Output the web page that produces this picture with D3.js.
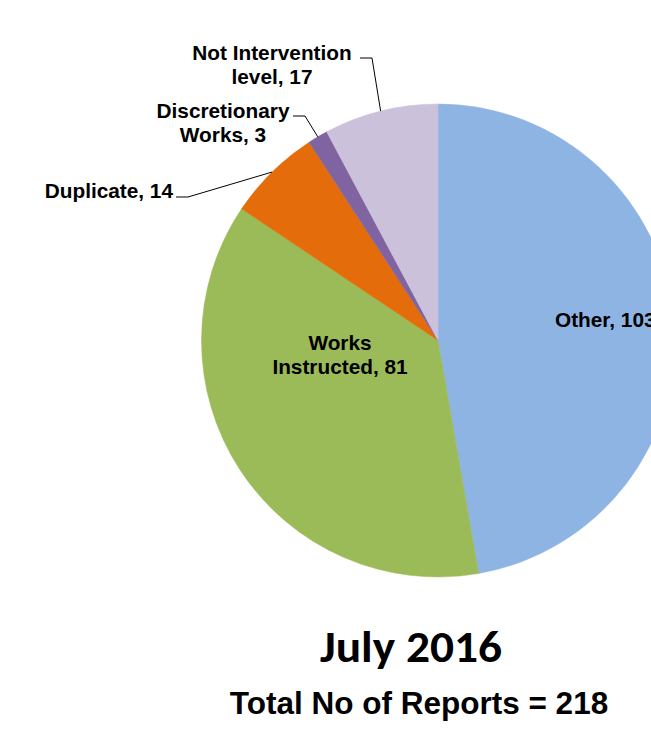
<!DOCTYPE html>
<html>
<head>
<meta charset="utf-8">
<script src="https://cdn.jsdelivr.net/npm/d3@7"></script>
<style>
  html, body { margin: 0; padding: 0; background: #fff; }
  svg { display: block; }
  .lbl { font-family: "Liberation Sans", Arial, sans-serif; font-weight: bold; fill: #000; }
</style>
</head>
<body>
<div id="chart"></div>
<script>
const categories = ["Other", "Works Instructed", "Duplicate", "Discretionary Works", "Not Intervention level"];
const values = [103, 81, 14, 3, 17];
const colors = ["#8EB4E3", "#9BBB59", "#E46C0A", "#8064A2", "#CCC1DA"];
const labelLines = [["Other, 103"], ["Works", "Instructed, 81"], ["Duplicate, 14"], ["Discretionary", "Works, 3"], ["Not Intervention", "level, 17"]];
const titleText = "July 2016";
const subtitleText = "Total No of Reports = 218";

const W = 651, H = 729;
const cx = 438, cy = 340.5, R = 236.5;

const svg = d3.select("#chart").append("svg").attr("width", W).attr("height", H);

const pie = d3.pie().sort(null).value(d => d)(values);
const arc = d3.arc().innerRadius(0).outerRadius(R);

const g = svg.append("g").attr("transform", `translate(${cx},${cy})`);
g.selectAll("path").data(pie).join("path")
  .attr("d", arc)
  .attr("fill", (d, i) => colors[i])
  .attr("stroke", (d, i) => colors[i])
  .attr("stroke-width", 0.5);

const fs = 20.8;
const lh = 23.5;
const inside = [
  { i: 0, x: 555, y: 327, anchor: "start" },
  { i: 1, x: 340, y: 350, anchor: "middle" }
];
const outside = [
  { i: 2, x: 173, y: 198, anchor: "end", elbow: [[176, 197], [188, 197]] },
  { i: 3, x: 223, y: 118, anchor: "middle", elbow: [[293, 116], [305, 116]] },
  { i: 4, x: 272, y: 60, anchor: "middle", elbow: [[360, 58], [372, 58]] }
];

function drawText(o) {
  const t = svg.append("text").attr("class", "lbl")
    .attr("font-size", fs).attr("text-anchor", o.anchor)
    .attr("x", o.x).attr("y", o.y);
  labelLines[o.i].forEach((ln, k) => {
    t.append("tspan").attr("x", o.x).attr("y", o.y + k * lh).text(ln);
  });
}
inside.forEach(drawText);
outside.forEach(o => {
  drawText(o);
  const d = pie[o.i];
  const mid = (d.startAngle + d.endAngle) / 2;
  const ex = cx + R * Math.sin(mid), ey = cy - R * Math.cos(mid);
  const pts = o.elbow.concat([[ex, ey]]);
  svg.append("path")
    .attr("d", d3.line()(pts))
    .attr("fill", "none").attr("stroke", "#000").attr("stroke-width", 1);
});

svg.append("text")
  .attr("x", 320).attr("y", 662)
  .attr("font-family", "Carlito, Calibri, Lato, sans-serif")
  .attr("font-weight", "bold")
  .attr("font-size", 44)
  .attr("textLength", 182)
  .attr("lengthAdjust", "spacingAndGlyphs")
  .attr("fill", "#000")
  .text(titleText);

svg.append("text")
  .attr("x", 419).attr("y", 714)
  .attr("text-anchor", "middle")
  .attr("class", "lbl")
  .attr("font-size", 31.5)
  .text(subtitleText);
</script>
</body>
</html>
